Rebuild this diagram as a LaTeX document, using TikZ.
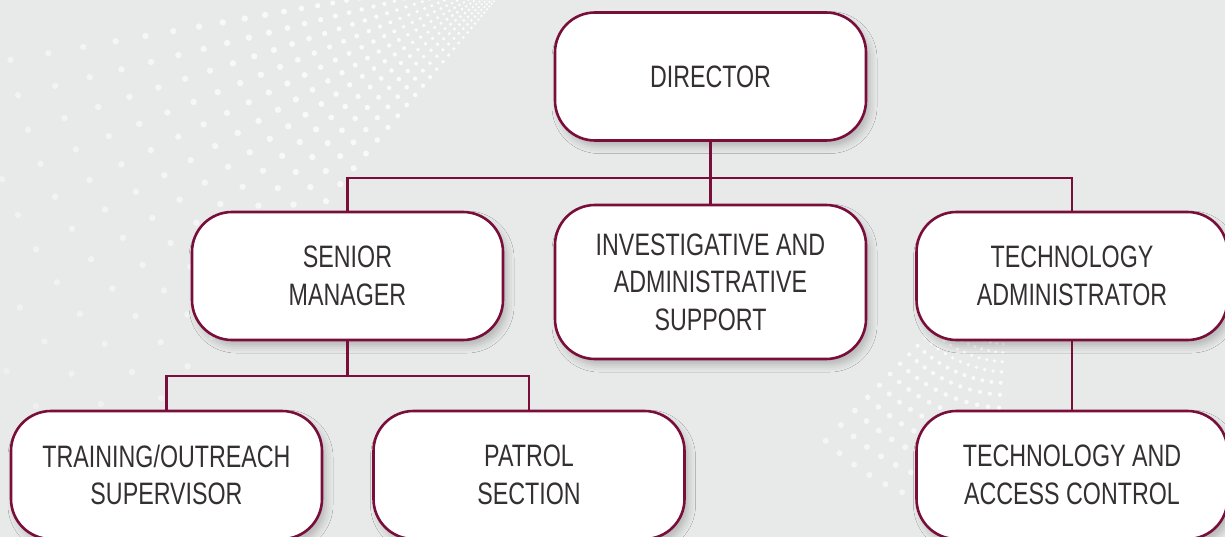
\documentclass[tikz,border=0pt]{standalone}
\usepackage{fontspec}
\setmainfont{Liberation Sans}[FakeStretch=0.75]
\usetikzlibrary{shadows.blur}

\begin{document}
\begin{tikzpicture}[
        x=1pt, y=-1pt,
        unit/.style={draw=maroon, line width=2.6pt, fill=white, rounded corners=40pt,
            minimum width=311pt, minimum height=128pt, align=center, inner sep=0pt,
            text=inktext, font=\fontsize{31}{37.5}\selectfont,
            blur shadow={shadow xshift=4pt, shadow yshift=-6pt, shadow opacity=22, shadow blur radius=7pt}},
        link/.style={draw=maroon, line width=2.6pt},
        dot/.style={fill=white, draw=none}
    ]

        \definecolor{maroon}{RGB}{122, 14, 58}
        \definecolor{inktext}{RGB}{52, 48, 49}
        \definecolor{paper}{RGB}{232, 233, 233}

        % background with the halftone sweep
        \useasboundingbox (0,0) rectangle (1225,537);
        \fill[paper] (0,0) rectangle (1225,537);
        \begin{scope}
            \clip (0,0) rectangle (1225,537);
            \foreach \t in {10,14,...,50} {
                \foreach \k in {0,...,40} {
                    \pgfmathsetmacro\d{30*1.08^\k}
                    \pgfmathsetmacro\r{min(3.2,0.8+0.009*\d)}
                    \pgfmathsetmacro\o{max(0,1-\d/950)}
                    \fill[dot, opacity=\o] ({520-\d*cos(\t)},{-30+\d*sin(\t)}) circle (\r);
                }
            }
            \foreach \t in {46,50,...,86} {
                \foreach \k in {0,...,30} {
                    \pgfmathsetmacro\d{20*1.09^\k}
                    \pgfmathsetmacro\r{min(3,0.7+0.01*\d)}
                    \pgfmathsetmacro\o{max(0,1-\d/600)}
                    \fill[dot, opacity=\o] ({1010-\d*cos(\t)},{250+\d*sin(\t)}) circle (\r);
                }
            }
        \end{scope}

        \node[unit] (director) at (710.5, 76.5) {DIRECTOR};

        \node[unit] (senior) at (347.5, 276) {SENIOR\\MANAGER};
        \node[unit, minimum height=154pt] (invest) at (710.5, 282) {INVESTIGATIVE AND\\ADMINISTRATIVE\\SUPPORT};
        \node[unit] (techadm) at (1072, 276) {TECHNOLOGY\\ADMINISTRATOR};

        \node[unit] (training) at (166.5, 475) {TRAINING/OUTREACH\\SUPERVISOR};
        \node[unit] (patrol) at (529, 475) {PATROL\\SECTION};
        \node[unit] (techacc) at (1072, 475) {TECHNOLOGY AND\\ACCESS CONTROL};

        \coordinate (bus1) at (710.5, 178);
        \coordinate (bus2) at (347.5, 376);

        \draw[link] (director.south) -- (invest.north);
        \draw[link] (senior.north) |- (bus1) -| (techadm.north);

        \draw[link] (senior.south) -- (bus2);
        \draw[link] (training.north) |- (bus2) -| (patrol.north);

        \draw[link] (techadm.south) -- (techacc.north);
    \end{tikzpicture}
\end{document}
